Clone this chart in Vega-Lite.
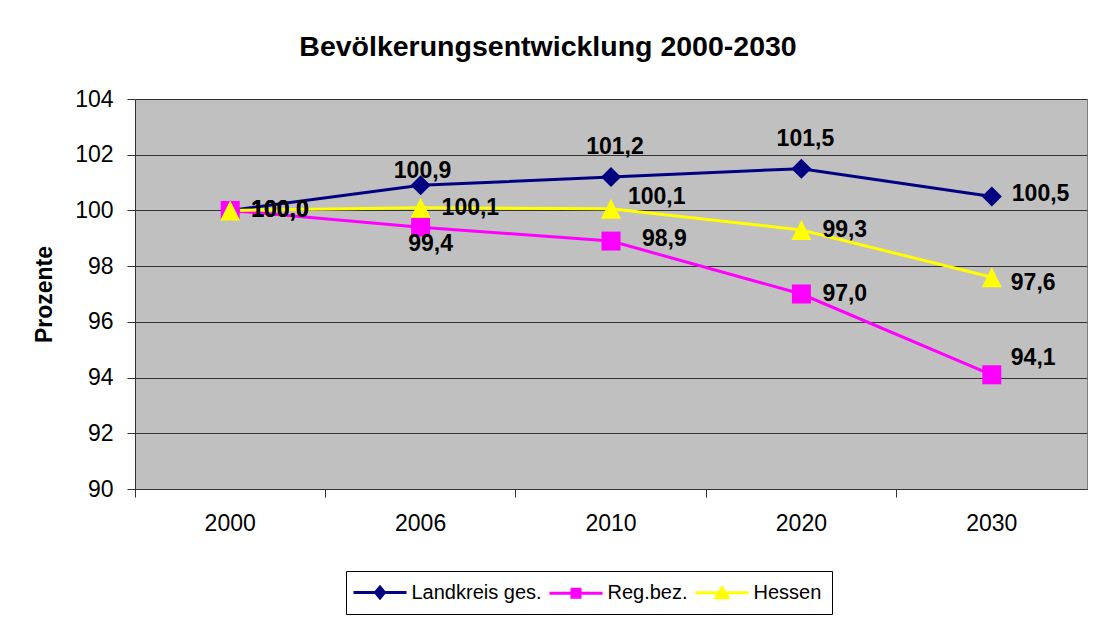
{
  "$schema": "https://vega.github.io/schema/vega-lite/v6.json",
  "width": 952,
  "height": 390,
  "autosize": "none",
  "padding": {"left": 135, "top": 99, "right": 6, "bottom": 128},
  "background": "#ffffff",
  "config": {
    "font": "Liberation Sans",
    "view": {"fill": "#C0C0C0", "stroke": "#808080", "strokeWidth": 1},
    "locale": {"number": {"decimal": ",", "thousands": ".", "grouping": [3], "currency": ["", " €"]}}
  },
  "title": {
    "text": "Bevölkerungsentwicklung 2000-2030",
    "fontSize": 28.5,
    "fontWeight": "bold",
    "color": "#000000",
    "anchor": "middle",
    "baseline": "alphabetic",
    "dx": -63,
    "offset": 4
  },
  "data": {
    "values": [
      {"year": "2000", "series": "Landkreis ges.", "value": 100.0},
      {"year": "2006", "series": "Landkreis ges.", "value": 100.9},
      {"year": "2010", "series": "Landkreis ges.", "value": 101.2},
      {"year": "2020", "series": "Landkreis ges.", "value": 101.5},
      {"year": "2030", "series": "Landkreis ges.", "value": 100.5},
      {"year": "2000", "series": "Reg.bez.", "value": 100.0},
      {"year": "2006", "series": "Reg.bez.", "value": 99.4},
      {"year": "2010", "series": "Reg.bez.", "value": 98.9},
      {"year": "2020", "series": "Reg.bez.", "value": 97.0},
      {"year": "2030", "series": "Reg.bez.", "value": 94.1},
      {"year": "2000", "series": "Hessen", "value": 100.0},
      {"year": "2006", "series": "Hessen", "value": 100.1},
      {"year": "2010", "series": "Hessen", "value": 100.06},
      {"year": "2020", "series": "Hessen", "value": 99.3},
      {"year": "2030", "series": "Hessen", "value": 97.6}
    ]
  },
  "encoding": {
    "x": {
      "field": "year",
      "type": "ordinal",
      "sort": null,
      "scale": {"type": "band", "paddingInner": 0, "paddingOuter": 0},
      "axis": {
        "title": null,
        "bandPosition": 0,
        "labelAngle": 0,
        "labelFontSize": 23,
        "labelColor": "#000000",
        "labelPadding": 15,
        "tickSize": 8,
        "tickColor": "#333333",
        "domainColor": "#333333",
        "grid": false
      }
    },
    "y": {
      "field": "value",
      "type": "quantitative",
      "scale": {"domain": [90, 104], "nice": false, "zero": false},
      "axis": {
        "title": "Prozente",
        "titleFontSize": 23,
        "titleFontWeight": "bold",
        "titleColor": "#000000",
        "titlePadding": 18,
        "values": [90, 92, 94, 96, 98, 100, 102, 104],
        "labelFontSize": 23,
        "labelColor": "#000000",
        "labelPadding": 14,
        "tickSize": 8,
        "tickColor": "#333333",
        "domainColor": "#333333",
        "grid": true,
        "gridColor": "#333333",
        "gridWidth": 1
      }
    },
    "color": {
      "field": "series",
      "type": "nominal",
      "scale": {
        "domain": ["Landkreis ges.", "Reg.bez.", "Hessen"],
        "range": ["#000080", "#FF00FF", "#FFFF00"]
      },
      "legend": {
        "title": null,
        "orient": "none",
        "legendX": 211,
        "legendY": 472,
        "direction": "horizontal",
        "strokeColor": "#000000",
        "fillColor": "#ffffff",
        "padding": 10,
        "labelFontSize": 20,
        "labelColor": "#000000",
        "labelOffset": 20,
        "symbolOffset": 12.5,
        "columnPadding": 1,
        "symbolSize": 400,
        "encode": {
          "symbols": {
            "update": {
              "shape": {"signal": "datum.value == 'Landkreis ges.' ? 'M-2.65,0L2.65,0M-0.45,0L0,-0.55L0.45,0L0,0.55Z' : datum.value == 'Reg.bez.' ? 'M-2.65,0L2.65,0M-0.4,-0.4L0.4,-0.4L0.4,0.4L-0.4,0.4Z' : 'M-2.65,0L2.65,0M0,-0.48L0.6,0.52L-0.6,0.52Z'"},
              "stroke": {"signal": "scale('color', datum.value)"},
              "fill": {"signal": "scale('color', datum.value)"},
              "strokeWidth": {"value": 3},
              "opacity": {"value": 1},
              "fillOpacity": {"value": 1},
              "strokeOpacity": {"value": 1}
            }
          }
        }
      }
    }
  },
  "layer": [
    {"mark": {"type": "line", "strokeWidth": 3}},
    {
      "transform": [{"filter": "datum.series == 'Landkreis ges.'"}],
      "mark": {"type": "point", "filled": true, "opacity": 1, "size": 400, "shape": "diamond"}
    },
    {
      "transform": [{"filter": "datum.series == 'Reg.bez.'"}],
      "mark": {"type": "point", "filled": true, "opacity": 1, "size": 361, "shape": "square"}
    },
    {
      "transform": [{"filter": "datum.series == 'Hessen'"}],
      "mark": {"type": "point", "filled": true, "opacity": 1, "size": 400, "shape": "M0,-1L1,1L-1,1Z"}
    },
    {
      "transform": [{"filter": "datum.year == '2000' || (datum.series == 'Hessen' && datum.year == '2006') || (datum.year == '2020' && datum.series != 'Landkreis ges.')"}],
      "mark": {"type": "text", "align": "left", "baseline": "middle", "dx": 21, "dy": 0, "fontSize": 23, "fontWeight": "bold"},
      "encoding": {"text": {"field": "value", "type": "quantitative", "format": ".1f"}, "color": {"value": "#000000"}}
    },
    {
      "transform": [{"filter": "datum.series == 'Landkreis ges.' && datum.year == '2030'"}],
      "mark": {"type": "text", "align": "left", "baseline": "middle", "dx": 20, "dy": -3, "fontSize": 23, "fontWeight": "bold"},
      "encoding": {"text": {"field": "value", "type": "quantitative", "format": ".1f"}, "color": {"value": "#000000"}}
    },
    {
      "transform": [{"filter": "datum.series == 'Hessen' && datum.year == '2030'"}],
      "mark": {"type": "text", "align": "left", "baseline": "middle", "dx": 19, "dy": 6, "fontSize": 23, "fontWeight": "bold"},
      "encoding": {"text": {"field": "value", "type": "quantitative", "format": ".1f"}, "color": {"value": "#000000"}}
    },
    {
      "transform": [{"filter": "datum.series == 'Reg.bez.' && datum.year == '2030'"}],
      "mark": {"type": "text", "align": "left", "baseline": "middle", "dx": 19, "dy": -17, "fontSize": 23, "fontWeight": "bold"},
      "encoding": {"text": {"field": "value", "type": "quantitative", "format": ".1f"}, "color": {"value": "#000000"}}
    },
    {
      "transform": [{"filter": "datum.series == 'Reg.bez.' && datum.year == '2010'"}],
      "mark": {"type": "text", "align": "left", "baseline": "middle", "dx": 31, "dy": -2, "fontSize": 23, "fontWeight": "bold"},
      "encoding": {"text": {"field": "value", "type": "quantitative", "format": ".1f"}, "color": {"value": "#000000"}}
    },
    {
      "transform": [{"filter": "datum.series == 'Hessen' && datum.year == '2010'"}],
      "mark": {"type": "text", "align": "left", "baseline": "middle", "dx": 17, "dy": -12, "fontSize": 23, "fontWeight": "bold"},
      "encoding": {"text": {"field": "value", "type": "quantitative", "format": ".1f"}, "color": {"value": "#000000"}}
    },
    {
      "transform": [{"filter": "datum.series == 'Landkreis ges.' && datum.year == '2006'"}],
      "mark": {"type": "text", "align": "center", "baseline": "middle", "dx": 2, "dy": -14, "fontSize": 23, "fontWeight": "bold"},
      "encoding": {"text": {"field": "value", "type": "quantitative", "format": ".1f"}, "color": {"value": "#000000"}}
    },
    {
      "transform": [{"filter": "datum.series == 'Landkreis ges.' && (datum.year == '2010' || datum.year == '2020')"}],
      "mark": {"type": "text", "align": "center", "baseline": "middle", "dx": 4, "dy": -30, "fontSize": 23, "fontWeight": "bold"},
      "encoding": {"text": {"field": "value", "type": "quantitative", "format": ".1f"}, "color": {"value": "#000000"}}
    },
    {
      "transform": [{"filter": "datum.series == 'Reg.bez.' && datum.year == '2006'"}],
      "mark": {"type": "text", "align": "center", "baseline": "middle", "dx": 10, "dy": 17, "fontSize": 23, "fontWeight": "bold"},
      "encoding": {"text": {"field": "value", "type": "quantitative", "format": ".1f"}, "color": {"value": "#000000"}}
    }
  ]
}
